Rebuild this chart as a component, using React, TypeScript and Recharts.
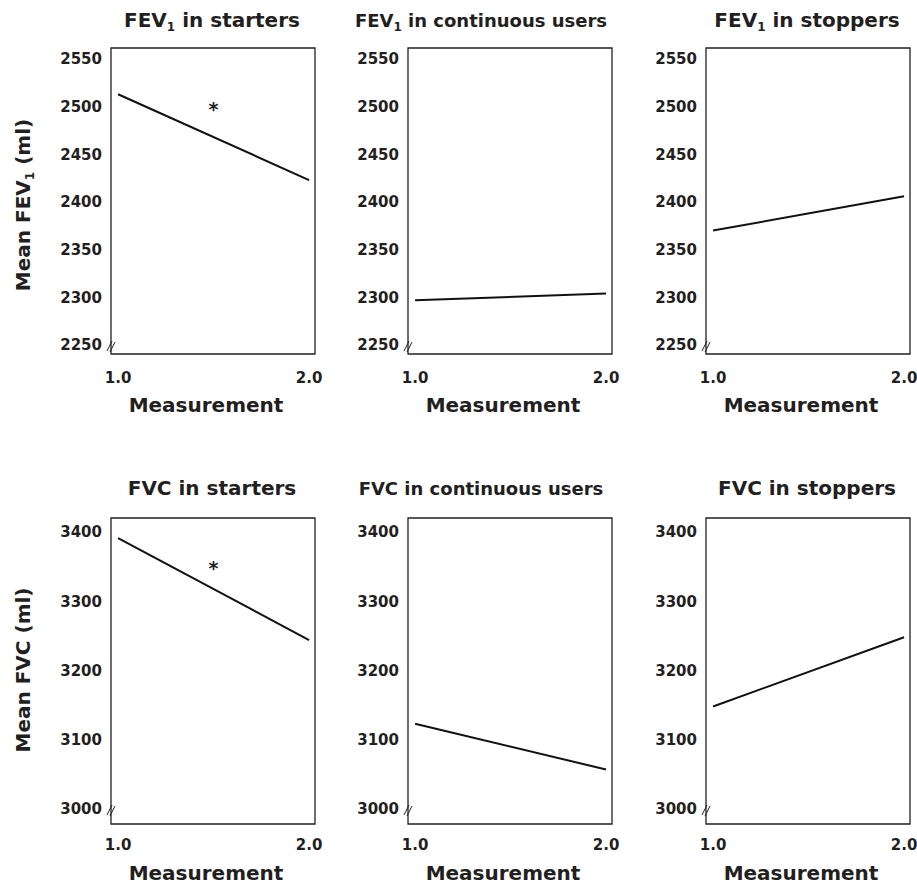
import { LineChart, Line, XAxis, YAxis, ReferenceArea, ReferenceDot } from "recharts";

// x positions (measurement number)
const measurement = [1, 2];
const xTicks = [1, 2];

// FEV1 means (ml)
const fev1Starters = [2513, 2423];
const fev1Continuous = [2297, 2304];
const fev1Stoppers = [2370, 2406];

// FVC means (ml)
const fvcStarters = [3391, 3244];
const fvcContinuous = [3123, 3057];
const fvcStoppers = [3148, 3248];

const fev1Ticks = [2250, 2300, 2350, 2400, 2450, 2500, 2550];
const fvcTicks = [3000, 3100, 3200, 3300, 3400];

const titlesTop = ["starters", "continuous users", "stoppers"];
const titlesBottom = ["FVC in starters", "FVC in continuous users", "FVC in stoppers"];

const X_DOMAIN: [number, number] = [0.963, 2.031];
const FEV1_DOMAIN: [number, number] = [2240.6, 2561.5];
const FVC_DOMAIN: [number, number] = [2978.3, 3420.2];

const FONT = "'DejaVu Sans', Lato, sans-serif";
const INK = "#231f20";

const BOX_LEFT = [111, 408, 706];
const TITLE_X = [212, 481, 807];
// the long middle titles run narrower in the reference
const TITLE_SIZE = [20, 18, 20];

// the little "//" axis-break mark at the bottom of the y axis
function BreakMark(props: any) {
  const { cx, cy } = props;
  return (
    <g stroke={INK} strokeWidth={1}>
      <line x1={cx - 4} y1={cy + 6} x2={cx + 1} y2={cy - 4} />
      <line x1={cx - 1} y1={cy + 7} x2={cx + 4} y2={cy - 3} />
    </g>
  );
}

function Star(props: any) {
  const { cx, cy } = props;
  return (
    <text x={cx} y={cy + 10} textAnchor="middle" fontSize={19} fontWeight={700} fontFamily={FONT} fill={INK}>
      *
    </text>
  );
}

interface PanelProps {
  boxLeft: number;
  top: number;
  height: number;
  marginTop: number;
  axisHeight: number;
  tickGap: number;
  labelOffset: number;
  values: number[];
  domain: [number, number];
  ticks: number[];
  star?: number;
}

function Panel({ boxLeft, top, height, marginTop, axisHeight, tickGap, labelOffset, values, domain, ticks, star }: PanelProps) {
  const data = measurement.map((m, i) => ({ m, v: values[i] }));
  const tickStyle = { fill: INK, fontSize: 15, fontWeight: 700, fontFamily: FONT };
  return (
    <div style={{ position: "absolute", left: boxLeft - 100, top }}>
      <LineChart width={314} height={height} data={data} margin={{ top: marginTop, right: 10, bottom: 0, left: 0 }}>
        <XAxis
          dataKey="m"
          type="number"
          domain={X_DOMAIN}
          ticks={xTicks}
          tickFormatter={(v: number) => v.toFixed(1)}
          allowDataOverflow
          axisLine={false}
          tickLine={false}
          tickSize={0}
          tickMargin={tickGap}
          height={axisHeight}
          tick={tickStyle}
          label={{
            value: "Measurement",
            position: "insideBottom",
            offset: labelOffset,
            dx: -7,
            fill: INK,
            fontSize: 20,
            fontWeight: 700,
            fontFamily: FONT,
          }}
        />
        <YAxis
          type="number"
          domain={domain}
          ticks={ticks}
          interval={0}
          allowDataOverflow
          width={100}
          axisLine={false}
          tickLine={false}
          tickSize={0}
          tickMargin={9}
          tick={tickStyle}
        />
        <ReferenceArea
          x1={X_DOMAIN[0]}
          x2={X_DOMAIN[1]}
          y1={domain[0]}
          y2={domain[1]}
          fill="none"
          stroke={INK}
          strokeWidth={1.3}
          ifOverflow="visible"
        />
        <ReferenceDot x={X_DOMAIN[0]} y={ticks[0]} r={0} ifOverflow="visible" shape={BreakMark} />
        {star !== undefined && <ReferenceDot x={1.5} y={star} r={0} ifOverflow="visible" shape={Star} />}
        <Line type="linear" dataKey="v" stroke="#111" strokeWidth={2} dot={false} isAnimationActive={false} />
      </LineChart>
    </div>
  );
}

export default function App() {
  const fevValues = [fev1Starters, fev1Continuous, fev1Stoppers];
  const fvcValues = [fvcStarters, fvcContinuous, fvcStoppers];
  return (
    <div
      style={{
        position: "absolute",
        left: 0,
        top: 0,
        width: 917,
        height: 884,
        overflow: "hidden",
        background: "#fff",
      }}
    >
      {fevValues.map((vals, i) => (
        <Panel
          key={"fev" + i}
          boxLeft={BOX_LEFT[i]}
          top={0}
          height={420}
          marginTop={48}
          axisHeight={66}
          tickGap={18}
          labelOffset={8}
          values={vals}
          domain={FEV1_DOMAIN}
          ticks={fev1Ticks}
          star={i === 0 ? 2501 : undefined}
        />
      ))}
      {fvcValues.map((vals, i) => (
        <Panel
          key={"fvc" + i}
          boxLeft={BOX_LEFT[i]}
          top={440}
          height={444}
          marginTop={78}
          axisHeight={60}
          tickGap={15}
          labelOffset={4}
          values={vals}
          domain={FVC_DOMAIN}
          ticks={fvcTicks}
          star={i === 0 ? 3353 : undefined}
        />
      ))}
      <svg
        width={917}
        height={884}
        style={{ position: "absolute", left: 0, top: 0, pointerEvents: "none" }}
        fontFamily={FONT}
        fontWeight={700}
        fill={INK}
      >
        {titlesTop.map((t, i) => (
          <text key={t} x={TITLE_X[i]} y={27} textAnchor="middle" fontSize={TITLE_SIZE[i]}>
            FEV
            <tspan fontSize={12} dy={4}>1</tspan>
            <tspan dy={-4}>{" in " + t}</tspan>
          </text>
        ))}
        {titlesBottom.map((t, i) => (
          <text key={t} x={TITLE_X[i]} y={495} textAnchor="middle" fontSize={TITLE_SIZE[i]}>
            {t}
          </text>
        ))}
        <text x={30} y={205} transform="rotate(-90 30 205)" textAnchor="middle" fontSize={20}>
          Mean FEV
          <tspan fontSize={12} dy={4}>1</tspan>
          <tspan dy={-4}> (ml)</tspan>
        </text>
        <text x={30} y={670} transform="rotate(-90 30 670)" textAnchor="middle" fontSize={20}>
          Mean FVC (ml)
        </text>
      </svg>
    </div>
  );
}
